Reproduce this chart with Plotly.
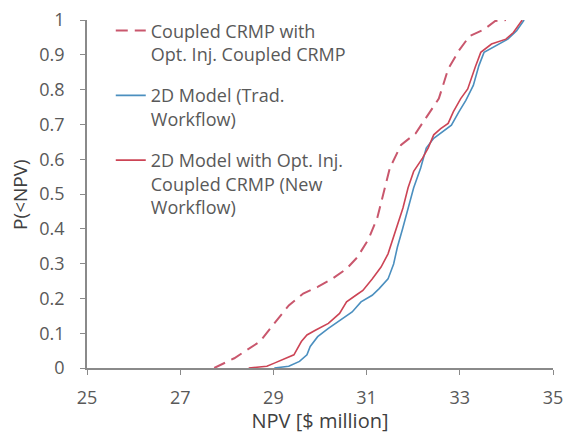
import plotly.graph_objects as go

# Cumulative NPV distributions (NPV in $ million, cumulative probability)
crmp_npv = [27.73, 28.16, 28.71, 29.02, 29.33, 29.64, 29.95, 30.26, 30.57, 30.80,
            31.04, 31.23, 31.35, 31.50, 31.74, 32.05, 32.36, 32.55, 32.75, 32.98,
            33.21, 33.52, 33.76, 33.99]
crmp_p = [0.0, 0.028, 0.076, 0.128, 0.18, 0.214, 0.233, 0.256, 0.285, 0.318,
          0.37, 0.432, 0.499, 0.575, 0.641, 0.674, 0.736, 0.774, 0.859, 0.912,
          0.954, 0.973, 0.997, 1.0]

trad_npv = [29.02, 29.33, 29.56, 29.72, 29.79, 29.95, 30.18, 30.45, 30.69, 30.88,
            31.12, 31.27, 31.46, 31.58, 31.66, 31.78, 31.89, 32.01, 32.16, 32.28,
            32.44, 32.63, 32.82, 32.98, 33.13, 33.29, 33.41, 33.52, 33.76, 34.03,
            34.22, 34.38]
trad_p = [0.0, 0.005, 0.019, 0.038, 0.062, 0.09, 0.114, 0.138, 0.161, 0.19,
          0.209, 0.228, 0.256, 0.299, 0.347, 0.404, 0.46, 0.518, 0.575, 0.632,
          0.66, 0.679, 0.698, 0.736, 0.769, 0.812, 0.869, 0.907, 0.926, 0.945,
          0.969, 1.0]

new_npv = [28.47, 28.86, 29.02, 29.25, 29.44, 29.60, 29.72, 29.91, 30.18, 30.42,
           30.57, 30.77, 30.92, 31.12, 31.31, 31.46, 31.58, 31.66, 31.78, 31.89,
           32.01, 32.20, 32.32, 32.44, 32.59, 32.75, 32.86, 33.02, 33.17, 33.33,
           33.45, 33.68, 33.99, 34.15, 34.34]
new_p = [0.0, 0.005, 0.014, 0.028, 0.038, 0.076, 0.095, 0.109, 0.128, 0.157,
         0.19, 0.209, 0.223, 0.256, 0.29, 0.328, 0.375, 0.413, 0.46, 0.518,
         0.565, 0.603, 0.632, 0.67, 0.688, 0.703, 0.736, 0.774, 0.802, 0.864,
         0.907, 0.931, 0.945, 0.964, 1.0]

x_ticks = [25, 27, 29, 31, 33, 35]
y_ticks = [0, 0.1, 0.2, 0.3, 0.4, 0.5, 0.6, 0.7, 0.8, 0.9, 1]
y_tick_text = ["0", "0.1", "0.2", "0.3", "0.4", "0.5", "0.6", "0.7", "0.8", "0.9", "1"]

FONT = "Open Sans"
TEXT_GREY = "#595959"
TITLE_GREY = "#404040"
AXIS_GREY = "#8a8a8a"

fig = go.Figure()
fig.add_trace(go.Scatter(
    x=crmp_npv, y=crmp_p, mode="lines", legendgroup="a",
    name="Coupled CRMP with<br>Opt. Inj. Coupled CRMP",
    line=dict(color="#c9576d", width=2, dash="12px,7px"),
))
fig.add_trace(go.Scatter(
    x=trad_npv, y=trad_p, mode="lines", legendgroup="b",
    name="2D Model (Trad.<br>Workflow)",
    line=dict(color="#4b8fbf", width=1.6),
))
fig.add_trace(go.Scatter(
    x=new_npv, y=new_p, mode="lines", legendgroup="c",
    name="2D Model with Opt. Inj.<br>Coupled CRMP (New<br>Workflow)",
    line=dict(color="#cc4455", width=1.6),
))

fig.update_layout(
    width=565, height=434,
    margin=dict(l=87, r=12, t=18, b=66),
    paper_bgcolor="white", plot_bgcolor="white",
    font=dict(family=FONT, size=15, color=TEXT_GREY),
    legend=dict(
        x=0.051, y=1.022, xanchor="left", yanchor="top",
        bgcolor="rgba(0,0,0,0)", valign="top",
        font=dict(family=FONT, size=18, color=TEXT_GREY),
        tracegroupgap=15,
    ),
    xaxis=dict(
        range=[25, 35], tickvals=x_ticks, ticktext=[str(v) for v in x_ticks],
        showgrid=False, zeroline=False, showline=True, linecolor=AXIS_GREY,
        linewidth=1.5, ticks="outside", ticklen=5, tickcolor=AXIS_GREY,
        tickfont=dict(size=18, color=TEXT_GREY), automargin=False,
        ticklabelstandoff=8,
        title=dict(text="NPV [$ million]", font=dict(size=20, color=TITLE_GREY), standoff=2),
    ),
    yaxis=dict(
        range=[0, 1], tickvals=y_ticks, ticktext=y_tick_text,
        showgrid=False, zeroline=False, showline=True, linecolor=AXIS_GREY,
        linewidth=1.5, ticks="outside", ticklen=5, tickcolor=AXIS_GREY,
        tickfont=dict(size=18, color=TEXT_GREY), automargin=False,
        ticklabelstandoff=12,
    ),
    annotations=[dict(
        text="P(<NPV)", textangle=-90, showarrow=False,
        xref="paper", yref="paper", x=-0.144, y=0.5,
        xanchor="center", yanchor="middle",
        font=dict(family=FONT, size=19, color=TITLE_GREY),
    )],
)

fig.write_html("out.html")
